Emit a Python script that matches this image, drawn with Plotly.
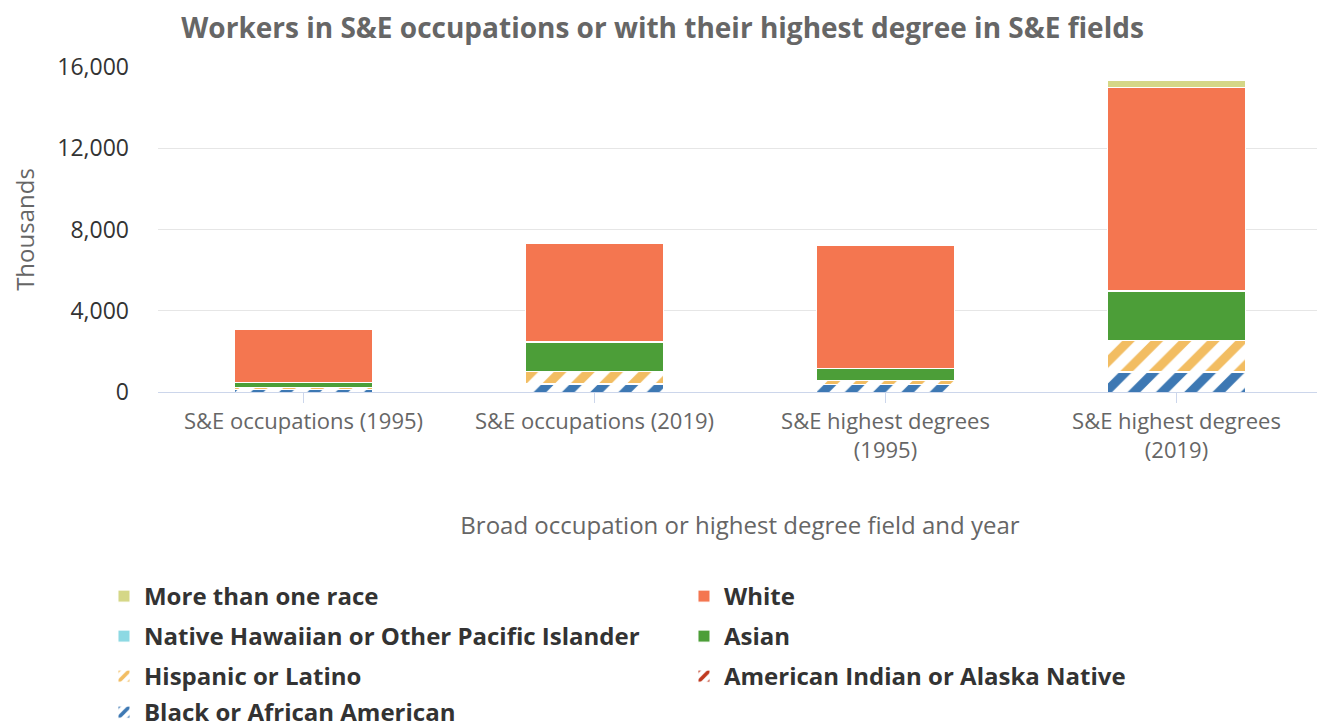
import plotly.graph_objects as go

categories = ["S&E occupations (1995)", "S&E occupations (2019)",
              "S&E highest degrees<br>(1995)", "S&E highest degrees<br>(2019)"]

more_than_one = [0, 0, 0, 345]
white = [2630, 4830, 6060, 9950]
native_hawaiian = [5, 25, 10, 60]
asian = [240, 1470, 590, 2400]
hispanic = [100, 590, 200, 1530]
american_indian = [10, 25, 20, 60]
black = [110, 370, 350, 970]

yticks = [0, 4000, 8000, 12000, 16000]

# bottom -> top stacking order; (name, values, colour, pattern, legend row, rank)
series = [
    ("Black or African American", black, "#3d78b3", "/", "legend4", 7),
    ("American Indian or Alaska Native", american_indian, "#c0391f", "/", "legend3", 6),
    ("Hispanic or Latino", hispanic, "#f2bd62", "/", "legend3", 5),
    ("Asian", asian, "#4c9e38", "", "legend2", 4),
    ("Native Hawaiian or Other Pacific Islander", native_hawaiian, "#8dd9e3", "", "legend2", 3),
    ("White", white, "#f47650", "", "legend", 2),
    ("More than one race", more_than_one, "#d5d787", "", "legend", 1),
]

fig = go.Figure()
for name, vals, color, shape, leg, rank in series:
    if shape:
        marker = dict(color="#ffffff",
                      pattern=dict(shape=shape, fgcolor=color, bgcolor="#ffffff",
                                   fgopacity=1, size=20, solidity=0.45, fillmode="replace"),
                      line=dict(color="#ffffff", width=1))
    else:
        marker = dict(color=color, line=dict(color="#ffffff", width=1))
    fig.add_trace(go.Bar(name=name, x=categories, y=vals, marker=marker,
                         legend=leg, legendrank=rank, hoverinfo="skip"))

# the page body adds an 8px offset, so the figure is 8px smaller and
# positions are given relative to that offset
W, H = 1317, 719
PLOT_TOP = 59
PLOT_BOTTOM = 384
PLOT_H = PLOT_BOTTOM - PLOT_TOP
row_tops = [566, 606, 646, 682]


def legend_cfg(top):
    return dict(orientation="h", x=-0.0464, y=(PLOT_BOTTOM - top) / PLOT_H,
                xanchor="left", yanchor="top", traceorder="normal",
                entrywidth=535, entrywidthmode="pixels",
                font=dict(size=24, color="#333333", family="Open Sans", weight="bold"),
                itemclick=False, itemdoubleclick=False, bgcolor="rgba(0,0,0,0)")


fig.update_layout(
    barmode="stack",
    bargap=0.525,
    width=W, height=H,
    margin=dict(l=150, r=3, t=PLOT_TOP, b=H - PLOT_BOTTOM, autoexpand=False),
    paper_bgcolor="#ffffff", plot_bgcolor="#ffffff",
    font=dict(family="Open Sans", color="#333333"),
    title=dict(text="<b>Workers in S&E occupations or with their highest degree in S&E fields</b>",
               x=0.497, xanchor="center", yref="container", y=0.985, yanchor="top",
               font=dict(size=28, color="#666666", family="Open Sans")),
    legend=legend_cfg(row_tops[0]),
    legend2=legend_cfg(row_tops[1]),
    legend3=legend_cfg(row_tops[2]),
    legend4=legend_cfg(row_tops[3]),
    showlegend=True,
)
fig.update_xaxes(
    type="category",
    automargin=False,
    showgrid=False,
    showline=True, linecolor="#ccd6eb", linewidth=1,
    ticks="outside", ticklen=10, tickcolor="#ccd6eb", tickwidth=1,
    tickfont=dict(size=22, color="#666666"),
    title=dict(text="Broad occupation or highest degree field and year",
               font=dict(size=24, color="#666666"), standoff=54),
)
fig.update_yaxes(
    range=[0, 16000],
    automargin=False,
    tickvals=yticks,
    tickformat=",",
    showgrid=True, gridcolor="#e6e6e6", gridwidth=1,
    zeroline=False,
    tickfont=dict(size=23, color="#333333"),
    ticks="", ticklabelstandoff=28,
    title=dict(text="Thousands", font=dict(size=24, color="#666666"), standoff=21),
)
fig.write_html("out.html")
